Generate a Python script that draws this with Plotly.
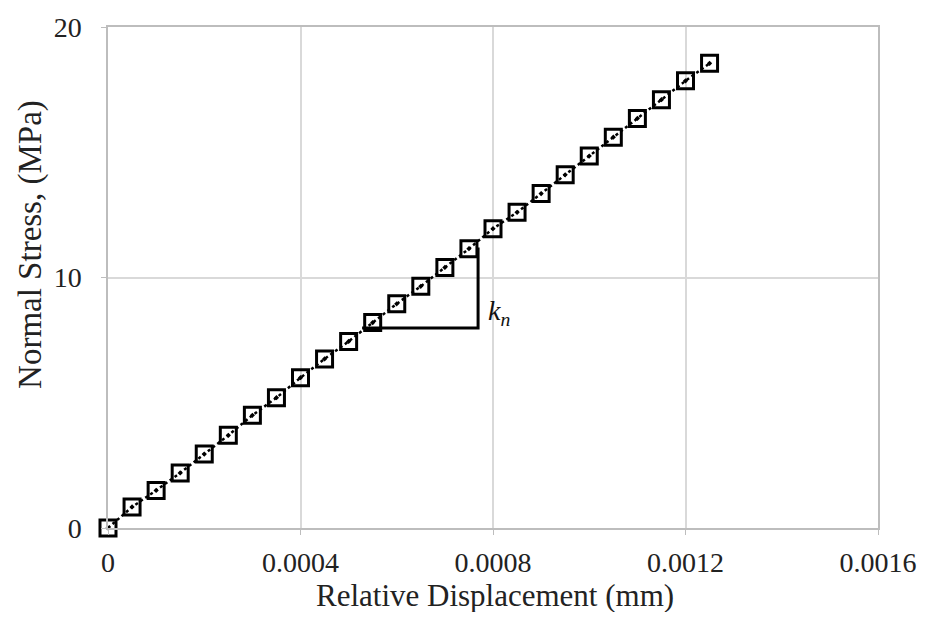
import plotly.graph_objects as go

displacement = [0, 0.00005, 0.0001, 0.00015, 0.0002, 0.00025, 0.0003, 0.00035, 0.0004, 0.00045,
                0.0005, 0.00055, 0.0006, 0.00065, 0.0007, 0.00075, 0.0008, 0.00085, 0.0009, 0.00095,
                0.001, 0.00105, 0.0011, 0.00115, 0.0012, 0.00125]
stress = [0.0, 0.84, 1.5, 2.2, 2.95, 3.7, 4.5, 5.2, 6.0, 6.75,
          7.45, 8.2, 8.95, 9.65, 10.4, 11.15, 11.95, 12.6, 13.35, 14.1,
          14.85, 15.6, 16.35, 17.1, 17.85, 18.55]

tri_x = [0.000528, 0.000769, 0.000769]
tri_y = [7.98, 7.98, 11.2]
label_x = 0.000812
label_y = 8.6

x_ticks = [0, 0.0004, 0.0008, 0.0012, 0.0016]
x_tick_text = ["0", "0.0004", "0.0008", "0.0012", "0.0016"]
y_ticks = [0, 10, 20]

fig = go.Figure()
fig.add_trace(go.Scatter(
    x=displacement, y=stress, mode="lines+markers",
    line=dict(color="black", width=2.5, dash="dot"),
    marker=dict(symbol="square-open-dot", size=16, color="black", line=dict(width=3, color="black")),
    cliponaxis=False,
    showlegend=False,
))
fig.add_trace(go.Scatter(
    x=tri_x, y=tri_y, mode="lines",
    line=dict(color="black", width=3),
    showlegend=False,
))
fig.add_annotation(x=label_x, y=label_y, text="<i>k</i><sub><i>n</i></sub>", showarrow=False,
                   font=dict(family="Liberation Serif", size=28, color="#111"))
fig.add_annotation(xref="paper", yref="paper", x=-0.1, y=0.565, text="Normal Stress, (MPa)",
                   textangle=-90, showarrow=False, xanchor="center", yanchor="middle",
                   font=dict(family="Liberation Serif", size=33, color="#222"))
fig.add_annotation(xref="paper", yref="paper", x=0.503, y=-0.134, text="Relative Displacement (mm)",
                   showarrow=False, xanchor="center", yanchor="middle",
                   font=dict(family="Liberation Serif", size=31, color="#222"))

fig.update_layout(
    width=910, height=604,
    margin=dict(l=100, r=40, t=19, b=84),
    paper_bgcolor="white", plot_bgcolor="white",
    font=dict(family="Liberation Serif", size=28, color="#222"),
)
fig.update_xaxes(
    automargin=False,
    range=[0, 0.0016], tickvals=x_ticks, ticktext=x_tick_text,
    showgrid=True, gridcolor="#d9d9d9", gridwidth=1.5,
    showline=True, linecolor="#bdbdbd", linewidth=1.5, mirror=True,
    ticks="outside", ticklen=5, tickcolor="#bdbdbd",
    ticklabelstandoff=4,
    tickfont=dict(size=28),
    zeroline=False,
)
fig.update_yaxes(
    automargin=False,
    range=[0, 20], tickvals=y_ticks,
    showgrid=True, gridcolor="#d9d9d9", gridwidth=1.5,
    showline=True, linecolor="#bdbdbd", linewidth=1.5, mirror=True,
    ticks="outside", ticklen=5, tickcolor="#bdbdbd",
    ticklabelstandoff=14,
    tickfont=dict(size=28),
    zeroline=False,
)
fig.write_html("out.html")
